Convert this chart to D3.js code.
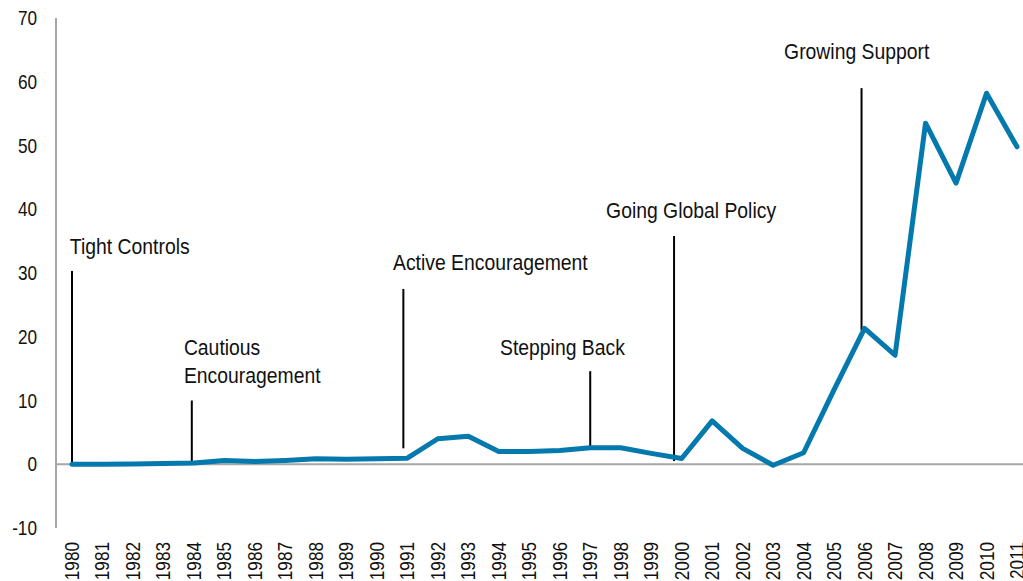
<!DOCTYPE html>
<html>
<head>
<meta charset="utf-8">
<script src="https://cdn.jsdelivr.net/npm/d3@7"></script>
<style>
  body { margin: 0; background: #fff; }
  text { font-family: "Liberation Sans", Arial, sans-serif; fill: #111; }
</style>
</head>
<body>
<svg id="chart" width="1023" height="581"></svg>
<script>
// outward investment, by year
const years = d3.range(1980, 2012);
const values = [0, 0, 0.05, 0.1, 0.2, 0.6, 0.45, 0.6, 0.85, 0.8, 0.85, 0.95,
    4.0, 4.4, 2.0, 2.0, 2.15, 2.6, 2.6, 1.7, 0.9, 6.8, 2.5, -0.15, 1.8,
    11.7, 21.3, 17.1, 53.5, 44.1, 58.2, 49.8];
const yTicks = [-10, 0, 10, 20, 30, 40, 50, 60, 70];

// policy periods: label lines, year where the marker sits, top/bottom of marker in data units
const phaseNames = [["Tight Controls"], ["Cautious", "Encouragement"], ["Active Encouragement"],
    ["Stepping Back"], ["Going Global Policy"], ["Growing Support"]];
const phaseYears = [1980, 1983.93, 1990.87, 1997, 1999.75, 2005.9];
const phaseTop = [30.3, 10, 27.5, 14.6, 35.8, 59];
const phaseBottom = [0, 0, 2.5, 2.7, 0.5, 21];
const phaseLabelX = [1979.93, 1983.67, 1990.53, 1994.04, 1997.52, 2003.36];
const phaseLabelY = [33, 17.1, 30.5, 17.2, 38.6, 63.6];

const svg = d3.select("#chart");
const x = d3.scaleLinear().domain([1980, 2011]).range([72, 1017]);
const y = d3.scaleLinear().domain([-10, 70]).range([528, 18]);
const axisX = 56;
const squeeze = 0.86; // narrow the font, the original uses a condensed face

// y axis
svg.append("line")
    .attr("x1", axisX).attr("x2", axisX)
    .attr("y1", y(70)).attr("y2", y(-10))
    .attr("stroke", "#a6a6a6").attr("stroke-width", 2);

svg.append("g").selectAll("text")
    .data(yTicks)
    .join("text")
    .attr("transform", d => `translate(37, ${y(d)}) scale(${squeeze}, 1)`)
    .attr("dy", "0.35em")
    .attr("text-anchor", "end")
    .attr("font-size", 20)
    .text(d => d);

// zero line
svg.append("line")
    .attr("x1", axisX).attr("x2", 1023)
    .attr("y1", y(0)).attr("y2", y(0))
    .attr("stroke", "#a6a6a6").attr("stroke-width", 2);

// year labels
svg.append("g").selectAll("text")
    .data(years)
    .join("text")
    .attr("transform", d => `translate(${x(d) + 7}, 542) rotate(-90) scale(${squeeze}, 1)`)
    .attr("text-anchor", "end")
    .attr("font-size", 20)
    .text(d => d);

// annotation markers
svg.append("g").selectAll("line")
    .data(phaseYears)
    .join("line")
    .attr("x1", d => x(d)).attr("x2", d => x(d))
    .attr("y1", (d, i) => y(phaseTop[i]))
    .attr("y2", (d, i) => y(phaseBottom[i]))
    .attr("stroke", "#000").attr("stroke-width", 2);

const labels = svg.append("g").selectAll("text")
    .data(phaseNames)
    .join("text")
    .attr("transform", (d, i) => `translate(${x(phaseLabelX[i])}, ${y(phaseLabelY[i])}) scale(0.88, 1)`)
    .attr("font-size", 22);

labels.selectAll("tspan")
    .data(d => d)
    .join("tspan")
    .attr("x", 0)
    .attr("dy", (d, i) => i === 0 ? 0 : 28)
    .text(d => d);

// series line
const line = d3.line()
    .x((d, i) => x(years[i]))
    .y(d => y(d));

svg.append("path")
    .datum(values)
    .attr("d", line)
    .attr("fill", "none")
    .attr("stroke", "#0479ad")
    .attr("stroke-width", 5)
    .attr("stroke-linejoin", "round")
    .attr("stroke-linecap", "round");
</script>
</body>
</html>
